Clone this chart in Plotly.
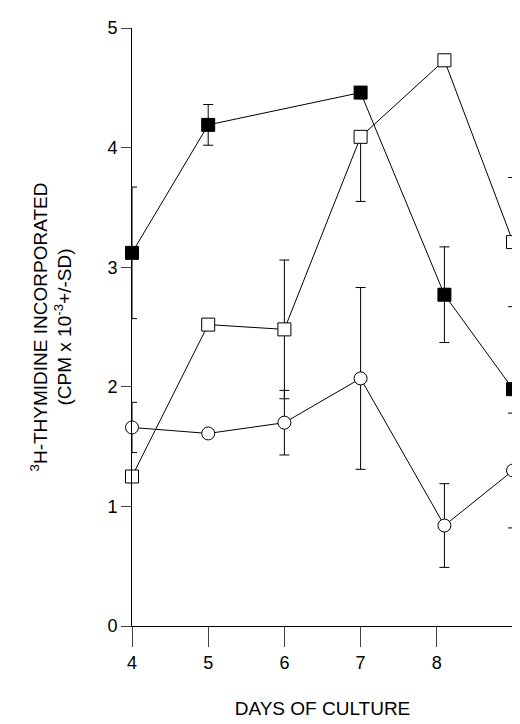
import plotly.graph_objects as go

days = [4, 5, 6, 7, 8.1, 9]

filled_days = [4, 5, 7, 8.1, 9]
filled_vals = [3.12, 4.19, 4.46, 2.77, 1.98]
filled_sd = [0.55, 0.17, 0, 0.40, 0]

open_sq = [1.25, 2.52, 2.48, 4.09, 4.73, 3.21]
open_sd_up = [0, 0, 0.58, 0, 0.03, 0.54]
open_sd_down = [0, 0, 0.58, 0.54, 0.03, 0.54]

circle = [1.66, 1.61, 1.70, 2.07, 0.84, 1.30]
circle_sd = [0.21, 0, 0.27, 0.76, 0.35, 0.48]

tick_days = [4, 5, 6, 7, 8, 9]

line = dict(color="black", width=1)


def err(up, down=None):
    return dict(type="data", array=up, arrayminus=down if down is not None else up,
                color="black", thickness=1, width=5)


fig = go.Figure()
fig.add_trace(go.Scatter(x=days, y=circle, mode="lines+markers", line=line,
                         error_y=err(circle_sd),
                         marker=dict(symbol="circle", size=13, color="white", line=dict(color="black", width=1))))
fig.add_trace(go.Scatter(x=days, y=open_sq, mode="lines+markers", line=line,
                         error_y=err(open_sd_up, open_sd_down),
                         marker=dict(symbol="square", size=13, color="white", line=dict(color="black", width=1))))
fig.add_trace(go.Scatter(x=filled_days, y=filled_vals, mode="lines+markers", line=line,
                         error_y=err(filled_sd),
                         marker=dict(symbol="square", size=13, color="black", line=dict(color="black", width=1))))
fig.update_traces(cliponaxis=False)

fig.update_layout(
    width=505, height=715, showlegend=False,
    paper_bgcolor="white", plot_bgcolor="white",
    margin=dict(l=124, r=0, t=20, b=97),
    font=dict(family="Liberation Sans, Arial", size=16, color="black"),
    xaxis=dict(range=[4, 9], tickvals=tick_days, ticks="outside", ticklen=20, tickwidth=1,
               showline=True, linecolor="black", linewidth=1, showgrid=False, zeroline=False,
               title=dict(text="DAYS OF CULTURE", standoff=30), tickfont=dict(size=18)),
    yaxis=dict(range=[0, 5], tickvals=[0, 1, 2, 3, 4, 5], ticks="outside", ticklen=10, tickwidth=1,
               showline=True, linecolor="black", linewidth=1, showgrid=False, zeroline=False,
               title=dict(text="<sup>3</sup>H-THYMIDINE INCORPORATED<br>(CPM x 10<sup>-3</sup>+/-SD)",
                          standoff=30),
               tickfont=dict(size=18)),
)

fig.write_html("out.html")
